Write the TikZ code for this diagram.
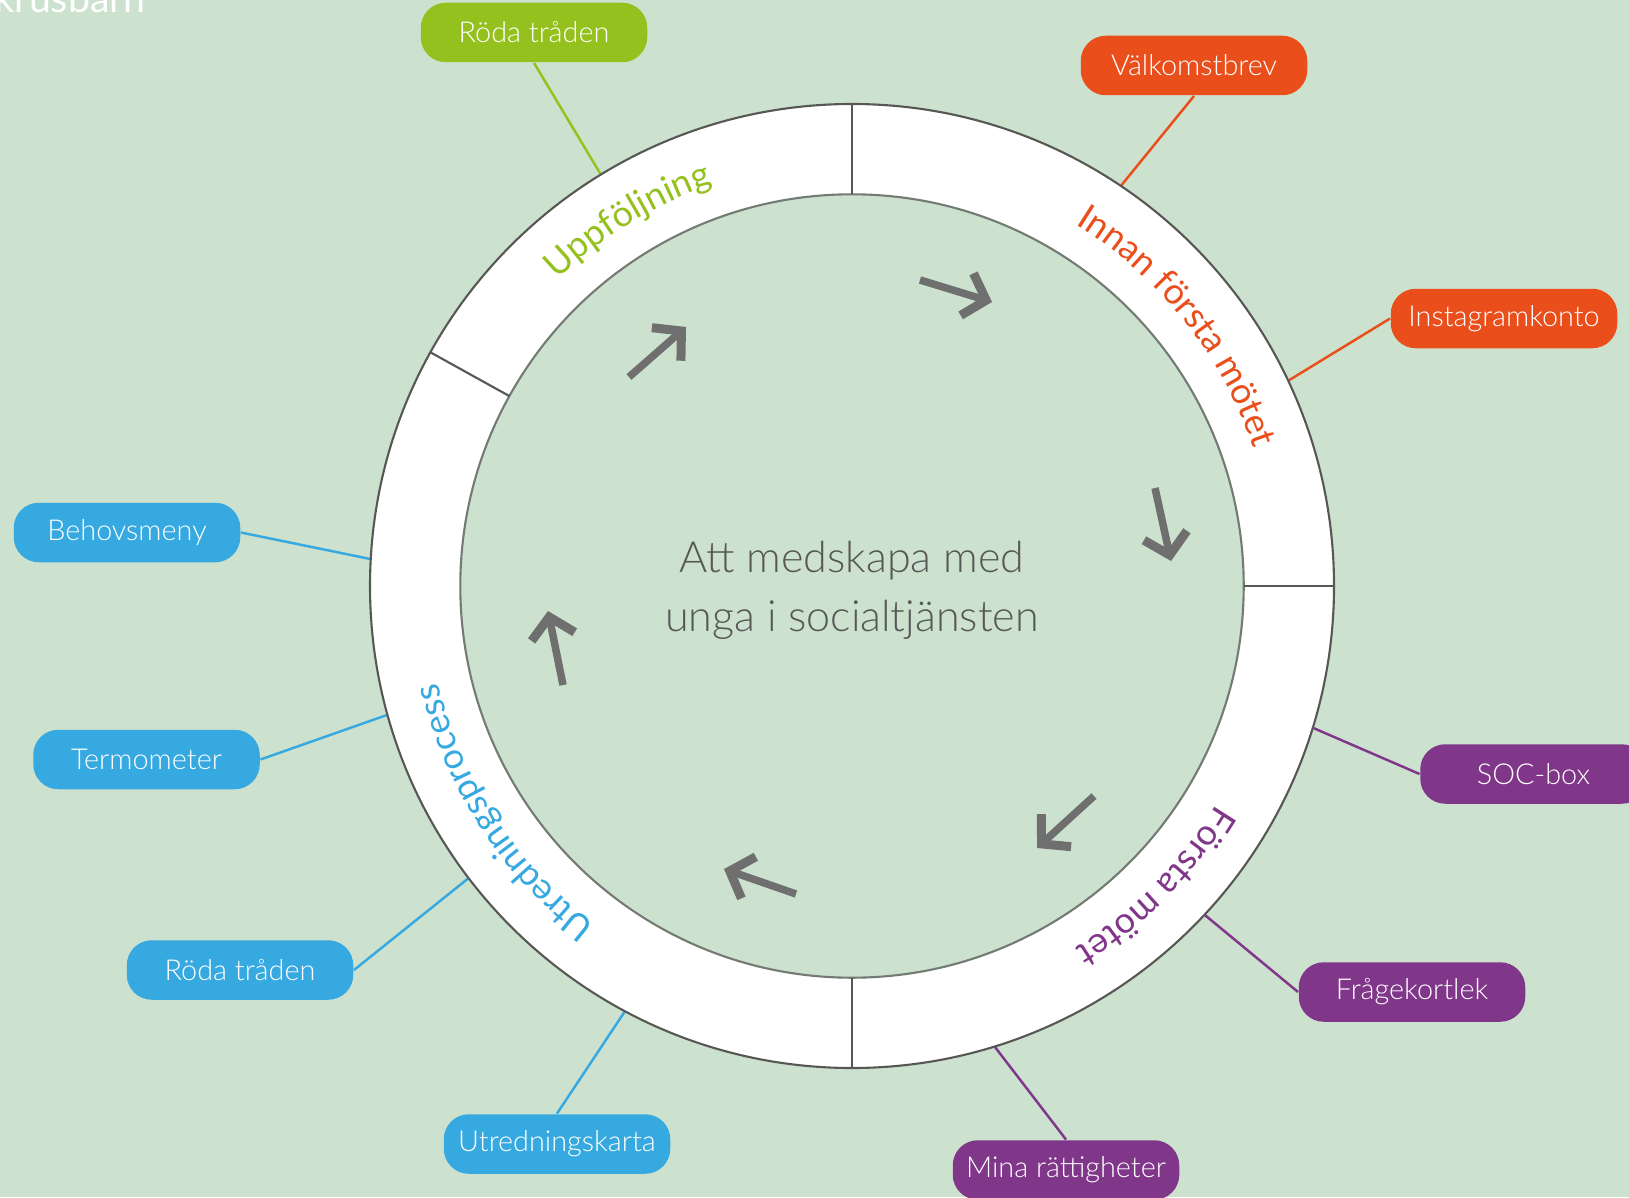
\documentclass[tikz,border=0pt]{standalone}
\usepackage{fontspec}
\setmainfont{Lato Light}
\newfontfamily\ringfont{Lato}
\usepackage{tikz}
\usetikzlibrary{arrows.meta}
\usetikzlibrary{decorations.text}

\definecolor{pagegreen}{HTML}{CCE2CE}
\definecolor{ringgray}{HTML}{575756}
\definecolor{arrowgray}{HTML}{706F6F}
\definecolor{uppfgreen}{HTML}{95C11F}
\definecolor{innanred}{HTML}{E94E1B}
\definecolor{motetpurple}{HTML}{803689}
\definecolor{utredblue}{HTML}{36A9E1}

\newcommand{\ringsize}{\fontsize{10.2}{12}\selectfont}

\tikzset{
  toolbox/.style={rounded corners=0.25cm, minimum width=2.265cm, minimum height=0.595cm,
    inner sep=0pt, text=white, font=\fontsize{8.2}{10}\selectfont},
  uppfbox/.style={toolbox, fill=uppfgreen},
  innanbox/.style={toolbox, fill=innanred},
  motetbox/.style={toolbox, fill=motetpurple},
  utredbox/.style={toolbox, fill=utredblue},
  toolline/.style={line width=0.7pt},
  flowarrow/.style={draw=arrowgray, line width=0.075cm, -{Straight Barb[length=0.2cm, width=0.44cm, line width=0.09cm]}}
}

\begin{document}
\begin{tikzpicture}
    \useasboundingbox [fill=pagegreen] (0,0) rectangle (16.29,11.97);

    \node [anchor=base west, text=white, font=\ringfont\fontsize{11.2}{13}\selectfont, inner sep=0pt] (logo) at (-0.06,11.845) {krusbarn};

    \node [uppfbox] (rodagreen) at (5.34,11.645) {Röda tråden};
    \node [innanbox] (valkomst) at (11.94,11.315) {Välkomstbrev};
    \node [innanbox] (insta) at (15.04,8.785) {Instagramkonto};
    \node [utredbox] (behov) at (1.27,6.645) {Behovsmeny};
    \node [utredbox] (termo) at (1.465,4.375) {Termometer};
    \node [utredbox] (rodablue) at (2.40,2.27) {Röda tråden};
    \node [utredbox] (karta) at (5.57,0.53) {Utredningskarta};
    \node [motetbox] (mina) at (10.66,0.27) {Mina rättigheter};
    \node [motetbox] (fraga) at (14.12,2.05) {Frågekortlek};
    \node [motetbox] (soc) at (15.335,4.23) {SOC-box};

    \begin{scope}[shift={(8.52,6.11)}]
      \coordinate (mid) at (0,0);
      \coordinate (rodagreenend) at (121.4:4.82);
      \coordinate (valkomstend) at (56.1:4.82);
      \coordinate (instaend) at (25.2:4.82);
      \coordinate (behovend) at (176.8:4.82);
      \coordinate (termoend) at (195.5:4.82);
      \coordinate (rodablueend) at (217.3:4.82);
      \coordinate (kartaend) at (241.9:4.82);
      \coordinate (minaend) at (-72.8:4.82);
      \coordinate (fragaend) at (-43:4.82);
      \coordinate (socend) at (-17.1:4.82);

      \draw [toolline, uppfgreen] (rodagreen.south) -- (rodagreenend);
      \draw [toolline, innanred] (valkomst.south) -- (valkomstend);
      \draw [toolline, innanred] (insta.west) -- (instaend);
      \draw [toolline, utredblue] (behov.east) -- (behovend);
      \draw [toolline, utredblue] (termo.east) -- (termoend);
      \draw [toolline, utredblue] (rodablue.east) -- (rodablueend);
      \draw [toolline, utredblue] (karta.north) -- (kartaend);
      \draw [toolline, motetpurple] (mina.north) -- (minaend);
      \draw [toolline, motetpurple] (fraga.west) -- (fragaend);
      \draw [toolline, motetpurple] (soc.west) -- (socend);

      \path [fill=white, even odd rule] (mid) circle (4.82) (mid) circle (3.917);
      \draw [ringgray, line width=0.6pt] (mid) circle (4.82);
      \draw [ringgray!75!pagegreen, line width=0.6pt] (mid) circle (3.917);
      \foreach \ang in {0,90,151,270}
        \draw [ringgray, line width=0.6pt] (\ang:3.917) -- (\ang:4.82);

      \path [decorate, decoration={text along path, text align=center,
        text={|\ringfont\ringsize\color{uppfgreen}|Uppföljning}}] (161.5:4.25) arc (161.5:81.5:4.25);
      \path [decorate, decoration={text along path, text align=center,
        text={|\ringfont\ringsize\color{innanred}|Innan första mötet}}] (78.6:4.25) arc (78.6:-1.4:4.25);
      \path [decorate, decoration={text along path, text align=center,
        text={|\ringfont\ringsize\color{motetpurple}|Första mötet}}] (-4.7:4.25) arc (-4.7:-84.7:4.25);
      \path [decorate, decoration={text along path, text align=center,
        text={|\ringfont\ringsize\color{utredblue}|Utredningsprocess}}] (253:4.25) arc (253:173:4.25);

      \node [text=ringgray, align=center, font=\fontsize{12.25}{16.7}\selectfont] (title) at (0,-0.04) {Att medskapa med\\unga i socialtjänsten};
    \end{scope}

    \coordinate (tail1) at (9.20,9.17);
    \coordinate (tip1) at (9.92,8.95);
    \coordinate (tail2) at (11.55,7.09);
    \coordinate (tip2) at (11.71,6.36);
    \coordinate (tail3) at (10.94,4.01);
    \coordinate (tip3) at (10.37,3.49);
    \coordinate (tail4) at (7.96,3.03);
    \coordinate (tip4) at (7.24,3.28);
    \coordinate (tail5) at (5.63,5.12);
    \coordinate (tip5) at (5.48,5.86);
    \coordinate (tail6) at (6.29,8.20);
    \coordinate (tip6) at (6.86,8.70);
    \foreach \n in {1,...,6}
      \draw [flowarrow] (tail\n) -- (tip\n);
\end{tikzpicture}
\end{document}
